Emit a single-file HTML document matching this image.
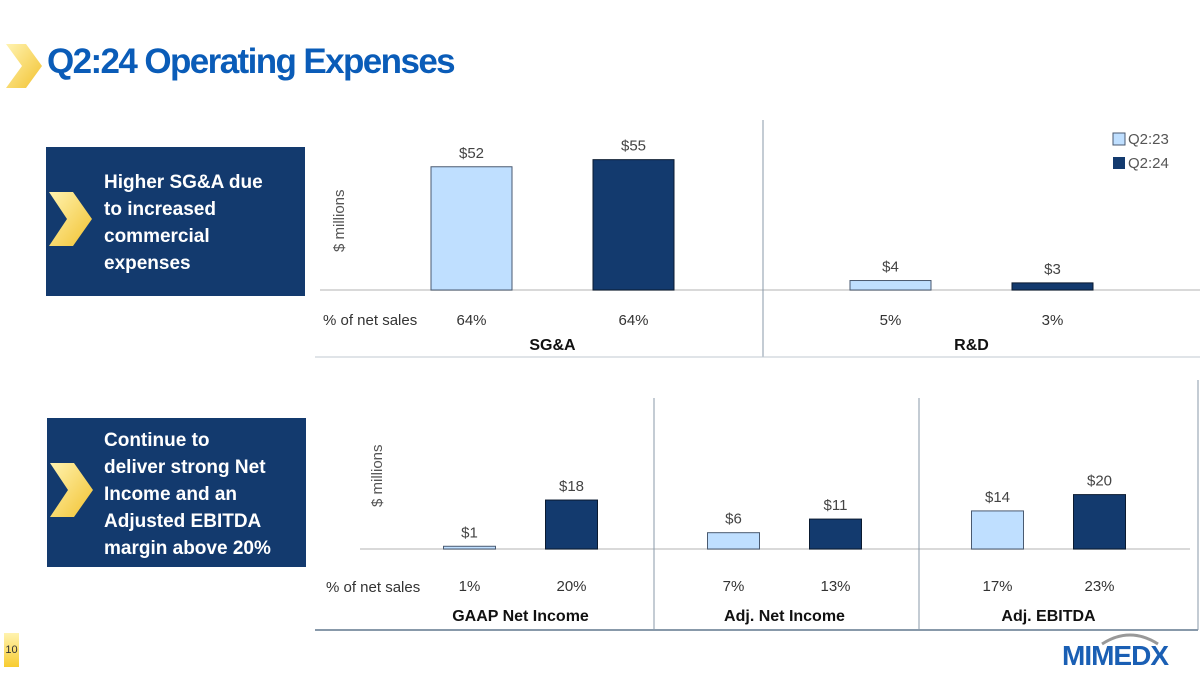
<!DOCTYPE html>
<html><head><meta charset="utf-8"><style>
body{margin:0;width:1200px;height:675px;background:#fff;font-family:"Liberation Sans",sans-serif;overflow:hidden;position:relative}
.box{position:absolute;background:#133a6e;color:#fff;font-weight:bold;font-size:19px;line-height:27px}
</style></head><body>
<svg width="0" height="0" style="position:absolute"><defs><linearGradient id="g" x1="0" y1="0" x2="1" y2="1"><stop offset="0" stop-color="#fff3b0"/><stop offset="1" stop-color="#f2c230"/></linearGradient></defs></svg>
<svg style="position:absolute;left:6px;top:44px" width="36" height="44"><polygon points="0,0 20,0 36,22 20,44 0,44 16,22" fill="url(#g)"/></svg>
<div style="position:absolute;left:47px;top:42px;font-size:35px;font-weight:bold;color:#0a5cb8;letter-spacing:-1.6px">Q2:24 Operating Expenses</div>
<div class="box" style="left:46px;top:147px;width:259px;height:149px"><div style="position:absolute;left:58px;top:22px">Higher SG&amp;A due<br>to increased<br>commercial<br>expenses</div></div>
<svg style="position:absolute;left:49px;top:192px" width="44" height="55"><polygon points="0,0 24,0 43,27 24,54 0,54 18,27" fill="url(#g)"/></svg>
<div class="box" style="left:47px;top:418px;width:259px;height:149px"><div style="position:absolute;left:57px;top:9px">Continue to<br>deliver strong Net<br>Income and an<br>Adjusted EBITDA<br>margin above 20%</div></div>
<svg style="position:absolute;left:50px;top:463px" width="44" height="55"><polygon points="0,0 24,0 43,27 24,54 0,54 18,27" fill="url(#g)"/></svg>
<svg id="c" width="1200" height="675" style="position:absolute;left:0;top:0" font-family="Liberation Sans, sans-serif"></svg>
<div style="position:absolute;left:4px;top:633px;width:15px;height:34px;background:linear-gradient(#fff3b0,#f8cc30);font-size:11px;color:#333;text-align:center;line-height:34px">10</div>
<div style="position:absolute;left:1062px;top:640px;font-size:28px;font-weight:bold;color:#1a5fb4;letter-spacing:-1px">MIMEDX</div>
<svg style="position:absolute;left:1100px;top:630px" width="60" height="16"><path d="M2 14 Q30 -4 58 14" stroke="#999" stroke-width="3" fill="none"/></svg>
<script>
const topCats=["SG&A","R&D"];
const topQ223=[52,4];
const topQ224=[55,3];
const topPctQ223=["64%","5%"];
const topPctQ224=["64%","3%"];
const botCats=["GAAP Net Income","Adj. Net Income","Adj. EBITDA"];
const botQ223=[1,6,14];
const botQ224=[18,11,20];
const botPctQ223=["1%","7%","17%"];
const botPctQ224=["20%","13%","23%"];
const svg=document.getElementById('c');const NS='http://www.w3.org/2000/svg';
function mk(t,a,txt,name,parent){const e=document.createElementNS(NS,t);for(const k in a)e.setAttribute(k,a[k]);if(txt!=null)e.textContent=txt;


(parent||svg).appendChild(e);return e;}
function panel(cats,v1,v2,p1,p2,x0,w,base,k,bw,gap,pctY,catY){
 cats.forEach((c,i)=>{const cx=x0+w*i+w/2;
  const xa=cx-gap/2-bw, xb=cx+gap/2;
  const ya=base-v1[i]*k, yb=base-v2[i]*k;
  mk('rect',{x:xa,y:ya,width:bw,height:v1[i]*k,fill:'#bfdfff',stroke:'#4a5a70','stroke-width':1},null,'bar-q223');
  mk('rect',{x:xb,y:yb,width:bw,height:v2[i]*k,fill:'#133a6e',stroke:'#0a1a30','stroke-width':1},null,'bar-q224');
  mk('text',{x:xa+bw/2,y:ya-9,'text-anchor':'middle','font-size':15,fill:'#444'},'$'+v1[i],'value-label');
  mk('text',{x:xb+bw/2,y:yb-9,'text-anchor':'middle','font-size':15,fill:'#444'},'$'+v2[i],'value-label');
  mk('text',{x:xa+bw/2,y:pctY,'text-anchor':'middle','font-size':15,fill:'#333'},p1[i],'pct-label');
  mk('text',{x:xb+bw/2,y:pctY,'text-anchor':'middle','font-size':15,fill:'#333'},p2[i],'pct-label');
  mk('text',{x:cx,y:catY,'text-anchor':'middle','font-size':16,'font-weight':'bold',fill:'#111'},c,'category-label');
 });}
// top
mk('line',{x1:320,y1:290,x2:1200,y2:290,stroke:'#d9d9d9','stroke-width':2},null,'baseline');
mk('line',{x1:763,y1:120,x2:763,y2:357,stroke:'#8899aa'},null,'divider');
mk('line',{x1:315,y1:357,x2:1200,y2:357,stroke:'#c0c8d0'},null,'divider');
panel(topCats,topQ223,topQ224,topPctQ223,topPctQ224,343,419,290,2.37,81,81,325,350);
mk('text',{x:323,y:325,'font-size':15,fill:'#333'},'% of net sales','pct-row-label');
mk('text',{x:0,y:0,'font-size':15,fill:'#555',transform:'translate(344,252) rotate(-90)'},'$ millions','y-axis-title');
mk('rect',{x:1113,y:133,width:12,height:12,fill:'#bfdfff',stroke:'#4a5a70'},null,'legend-swatch');
mk('text',{x:1128,y:144,'font-size':15,fill:'#555'},'Q2:23','legend-entry');
mk('rect',{x:1113,y:157,width:12,height:12,fill:'#133a6e'},null,'legend-swatch');
mk('text',{x:1128,y:168,'font-size':15,fill:'#555'},'Q2:24','legend-entry');
// bottom
mk('line',{x1:360,y1:549,x2:1190,y2:549,stroke:'#d9d9d9','stroke-width':2},null,'baseline');
[654,919].forEach(x=>mk('line',{x1:x,y1:398,x2:x,y2:630,stroke:'#8899aa'},null,'divider'));
mk('line',{x1:1198,y1:380,x2:1198,y2:630,stroke:'#8899aa'},null,'divider');
mk('line',{x1:315,y1:630,x2:1198,y2:630,stroke:'#8899aa','stroke-width':2},null,'bottom-rule');
panel(botCats,botQ223,botQ224,botPctQ223,botPctQ224,388.5,264,549,2.72,52,50,591,621);
mk('text',{x:326,y:592,'font-size':15,fill:'#333'},'% of net sales','pct-row-label');
mk('text',{x:0,y:0,'font-size':15,fill:'#555',transform:'translate(382,507) rotate(-90)'},'$ millions','y-axis-title');
</script>
</body></html>
